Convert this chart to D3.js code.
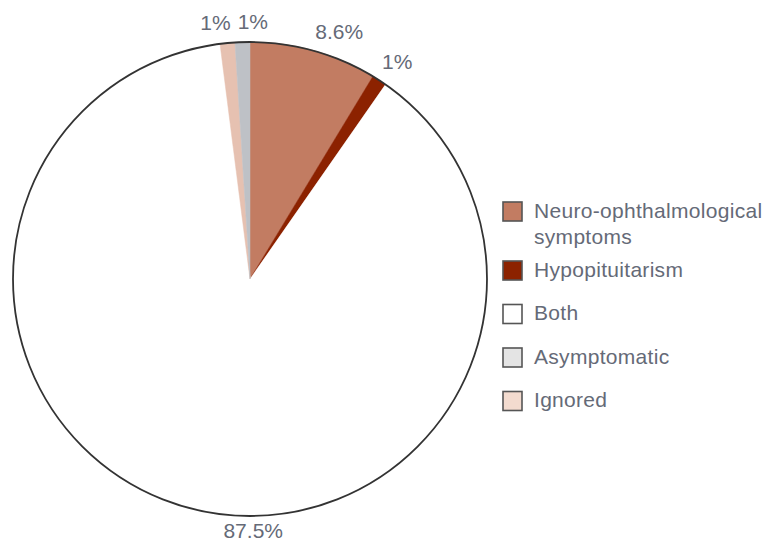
<!DOCTYPE html>
<html>
<head>
<meta charset="utf-8">
<script src="https://cdn.jsdelivr.net/npm/d3@7/dist/d3.min.js"></script>
<style>
  html, body { margin: 0; padding: 0; background: #fff; }
  svg { display: block; }
  text { font-family: "Liberation Sans", Arial, Helvetica, sans-serif; }
</style>
</head>
<body>
<svg id="chart" width="763" height="547"></svg>
<script>
// Presenting symptoms, share of patients (%), clockwise from 12 o'clock
const categories = ["Neuro-ophthalmological symptoms", "Hypopituitarism", "Both", "Ignored", "Asymptomatic"];
const values = [8.6, 1, 87.5, 1, 1];
const valueLabels = ["8.6%", "1%", "87.5%", "1%", "1%"];
const sliceColors = ["#c27c62", "#8c2200", "#ffffff", "#e6c1b1", "#bec1c6"];

// Legend order and its (lighter) swatch fills
const legendOrder = ["Neuro-ophthalmological symptoms", "Hypopituitarism", "Both", "Asymptomatic", "Ignored"];
const legendLines = [["Neuro-ophthalmological", "symptoms"], ["Hypopituitarism"], ["Both"], ["Asymptomatic"], ["Ignored"]];
const legendColors = ["#c27c62", "#8c2200", "#ffffff", "#e4e4e4", "#f3dbcf"];

const svg = d3.select("#chart");
const cx = 250, cy = 279, r = 237;

const color = d3.scaleOrdinal().domain(categories).range(sliceColors);
const pie = d3.pie().sort(null).value(d => d.value);
const data = categories.map((c, i) => ({ cat: c, value: values[i], label: valueLabels[i] }));
const arcs = pie(data);
const arc = d3.arc().innerRadius(0).outerRadius(r);

const g = svg.append("g").attr("transform", `translate(${cx},${cy})`);

g.selectAll("path.slice")
  .data(arcs)
  .join("path")
  .attr("class", "slice")
  .attr("d", arc)
  .attr("fill", d => color(d.data.cat))
  .attr("stroke", d => color(d.data.cat))
  .attr("stroke-width", 0.5);

// Outer rim
g.append("circle")
  .attr("r", r)
  .attr("fill", "none")
  .attr("stroke", "#333")
  .attr("stroke-width", 1.8);

// Percentage labels just outside the rim: [radius, horizontal nudge]
const labelOffsets = {
  "Neuro-ophthalmological symptoms": [r + 20, 20],
  "Hypopituitarism": [r + 22, 6],
  "Both": [r + 22, 65],
  "Ignored": [r + 21, -10],
  "Asymptomatic": [r + 21, 11]
};
g.selectAll("text.pct")
  .data(arcs)
  .join("text")
  .attr("class", "pct")
  .attr("text-anchor", "middle")
  .attr("dominant-baseline", "central")
  .attr("font-size", 21)
  .attr("fill", "#656a77")
  .attr("transform", d => {
    const a = (d.startAngle + d.endAngle) / 2;
    const [rr, dx] = labelOffsets[d.data.cat];
    const x = Math.sin(a) * rr + dx;
    const y = -Math.cos(a) * rr;
    return `translate(${x},${y})`;
  })
  .text(d => d.data.label);

// Legend: first entry wraps onto two lines, so it gets a taller row
const rowHeights = legendLines.map(l => l.length > 1 ? 59 : 43.5);
const rowTop = rowHeights.map((h, i) => d3.sum(rowHeights.slice(0, i)));

const legend = svg.append("g").attr("transform", "translate(502,201)");
const rows = legend.selectAll("g.row")
  .data(legendOrder)
  .join("g")
  .attr("class", "row")
  .attr("transform", (d, i) => `translate(0,${rowTop[i]})`);

rows.append("rect")
  .attr("x", 1).attr("y", 1)
  .attr("width", 19).attr("height", 19)
  .attr("fill", (d, i) => legendColors[i])
  .attr("stroke", "#555")
  .attr("stroke-width", 1.6);

rows.append("text")
  .attr("x", 32)
  .attr("y", 16.5)
  .attr("font-size", 21)
  .attr("letter-spacing", 0.3)
  .attr("fill", "#656a77")
  .selectAll("tspan")
  .data((d, i) => legendLines[i])
  .join("tspan")
  .attr("x", 32)
  .attr("dy", (d, i) => i === 0 ? 0 : 26)
  .text(d => d);
</script>
</body>
</html>
